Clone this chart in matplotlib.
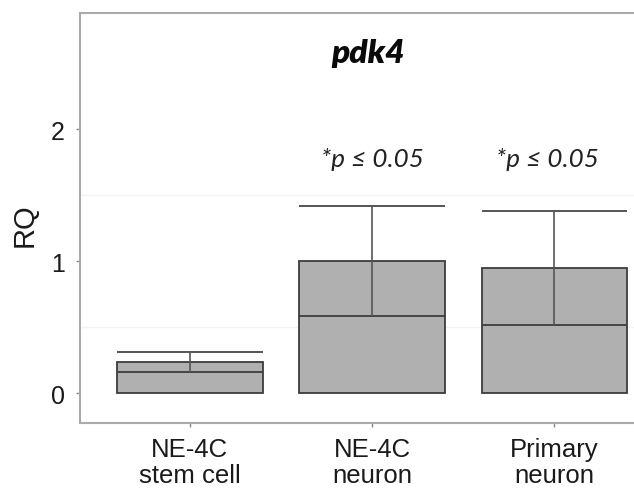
import matplotlib
matplotlib.use("Agg")
import matplotlib.pyplot as plt

groups = ["NE-4C\nstem cell", "NE-4C\nneuron", "Primary\nneuron"]
q3 = [0.235, 1.0, 0.947]
median = [0.159, 0.583, 0.516]
upper = [0.31, 1.417, 1.378]
sig_groups = [1, 2]
sig_label = "*p ≤ 0.05"
title = "pdk4"

fig = plt.figure(figsize=(6.34, 4.89), dpi=100)
ax = fig.add_axes([80 / 634, 65 / 489, 554 / 634, 410.5 / 489])

x = list(range(len(groups)))
w = 0.8
ax.bar(x, q3, width=w, color="#b0b0b0", edgecolor="#3c3c3c", linewidth=1.3, zorder=2)
for xi, m, u in zip(x, median, upper):
    ax.hlines(m, xi - w / 2, xi + w / 2, color="#3c3c3c", lw=1.3, zorder=3)
    ax.vlines(xi, m, u, color="#555555", lw=1.2, zorder=3)
    ax.hlines(u, xi - w / 2, xi + w / 2, color="#555555", lw=1.4, zorder=3)

# very faint grid lines as in the scan
for gy in [0.5, 1.5]:
    ax.axhline(gy, color="#f3f3f3", lw=1, zorder=0)

ax.set_xlim(-0.602, 2.436)
ax.set_ylim(-0.227, 2.883)
ax.set_yticks([0, 1, 2])
ax.set_xticks(x)
ax.set_xticklabels(groups)
for lab in ax.get_xticklabels():
    lab.set_linespacing(1.1)
    lab.set_fontfamily("Liberation Sans")
    lab.set_fontsize(18.5)
    lab.set_color("#1a1a1a")
for lab in ax.get_yticklabels():
    lab.set_fontfamily("Liberation Sans")
    lab.set_fontsize(18)
    lab.set_color("#1a1a1a")
ax.tick_params(axis="both", length=3, width=1, color="#888888")
ax.tick_params(axis="y", pad=8)
ax.tick_params(axis="x", pad=7)

for s in ["left", "top", "bottom"]:
    ax.spines[s].set_color("#aaaaaa")
    ax.spines[s].set_linewidth(1.5)
ax.spines["right"].set_visible(False)

fig.text(25 / 634, 1 - 225 / 489, "RQ", rotation=90, ha="center", va="center",
         fontsize=21, family="Liberation Sans", color="#1a1a1a")

ax.text(0.977, 2.508, title, ha="center", va="baseline", fontsize=24,
        fontweight="heavy", fontstyle="italic", family="Lato", color="#0a0a0a")
for g in sig_groups:
    ax.text(g - 0.02 * (g - 1) * 2, 1.72, sig_label, ha="center", va="baseline",
            fontsize=18.7, fontstyle="italic", family="Lato", color="#222222")

fig.savefig("out.png", dpi=100)
